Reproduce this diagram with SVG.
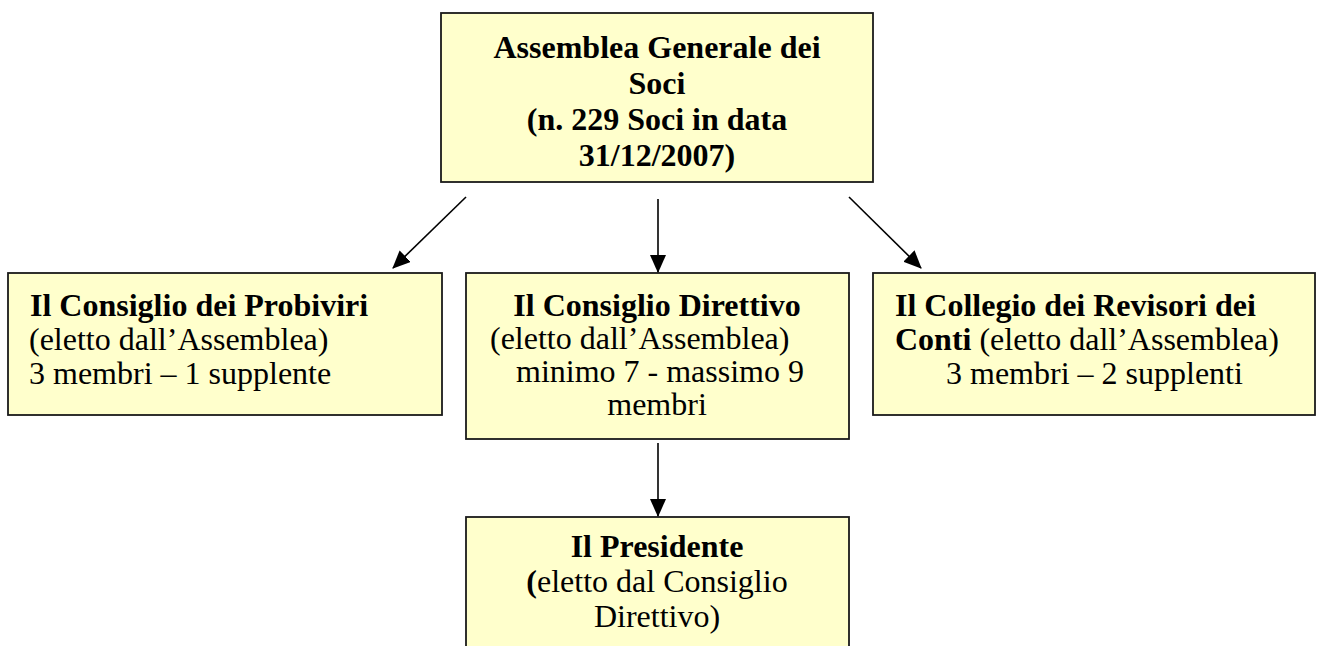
<svg xmlns="http://www.w3.org/2000/svg" width="1319" height="646" viewBox="0 0 1319 646">
<defs>
<marker id="arr" markerUnits="userSpaceOnUse" markerWidth="18" markerHeight="16" refX="17" refY="8" orient="auto">
<path d="M0,0 L18,8 L0,16 z" fill="#000"/>
</marker>
<style>
.box{fill:#FFFFCC;stroke:#1a1a1a;stroke-width:1.8}
.t{font-family:"Liberation Serif","Times New Roman",serif;font-size:32px;fill:#000}
.b{font-weight:bold}
.c{text-anchor:middle}
.ln{stroke:#000;stroke-width:1.6;fill:none;marker-end:url(#arr)}
</style>
</defs>
<rect width="1319" height="646" fill="#fff"/>
<g id="assemblea">
<rect class="box" x="441" y="13" width="432" height="169"/>
<text class="t b c" x="657" y="58">Assemblea Generale dei</text>
<text class="t b c" x="657" y="94">Soci</text>
<text class="t b c" x="657" y="130">(n. 229 Soci in data</text>
<text class="t b c" x="657" y="166">31/12/2007)</text>
</g>
<g id="probiviri">
<rect class="box" x="8" y="273" width="434" height="142"/>
<text class="t b" x="30" y="316">Il Consiglio dei Probiviri</text>
<text class="t" x="29" y="350">(eletto dall’Assemblea)</text>
<text class="t" x="29" y="384">3 membri – 1 supplente</text>
</g>
<g id="direttivo">
<rect class="box" x="466" y="273" width="383" height="166"/>
<text class="t b c" x="657" y="316">Il Consiglio Direttivo</text>
<text class="t" x="490" y="349">(eletto dall’Assemblea)</text>
<text class="t" x="516" y="382">minimo 7 - massimo 9</text>
<text class="t c" x="657" y="415">membri</text>
</g>
<g id="revisori">
<rect class="box" x="873" y="273" width="442" height="142"/>
<text class="t b" x="895" y="316">Il Collegio dei Revisori dei</text>
<text class="t" x="895" y="350"><tspan class="b">Conti</tspan> (eletto dall’Assemblea)</text>
<text class="t" x="946" y="384">3 membri – 2 supplenti</text>
</g>
<g id="presidente">
<rect class="box" x="466" y="517" width="383" height="140"/>
<text class="t b c" x="657" y="557">Il Presidente</text>
<text class="t c" x="657" y="592"><tspan class="b">(</tspan>eletto dal Consiglio</text>
<text class="t c" x="657" y="627">Direttivo)</text>
</g>
<g id="connectors">
<line class="ln" x1="466" y1="197" x2="393" y2="268"/>
<line class="ln" x1="658" y1="199" x2="658" y2="272"/>
<line class="ln" x1="849" y1="197" x2="921" y2="268"/>
<line class="ln" x1="658" y1="443" x2="658" y2="516"/>
</g>
</svg>
